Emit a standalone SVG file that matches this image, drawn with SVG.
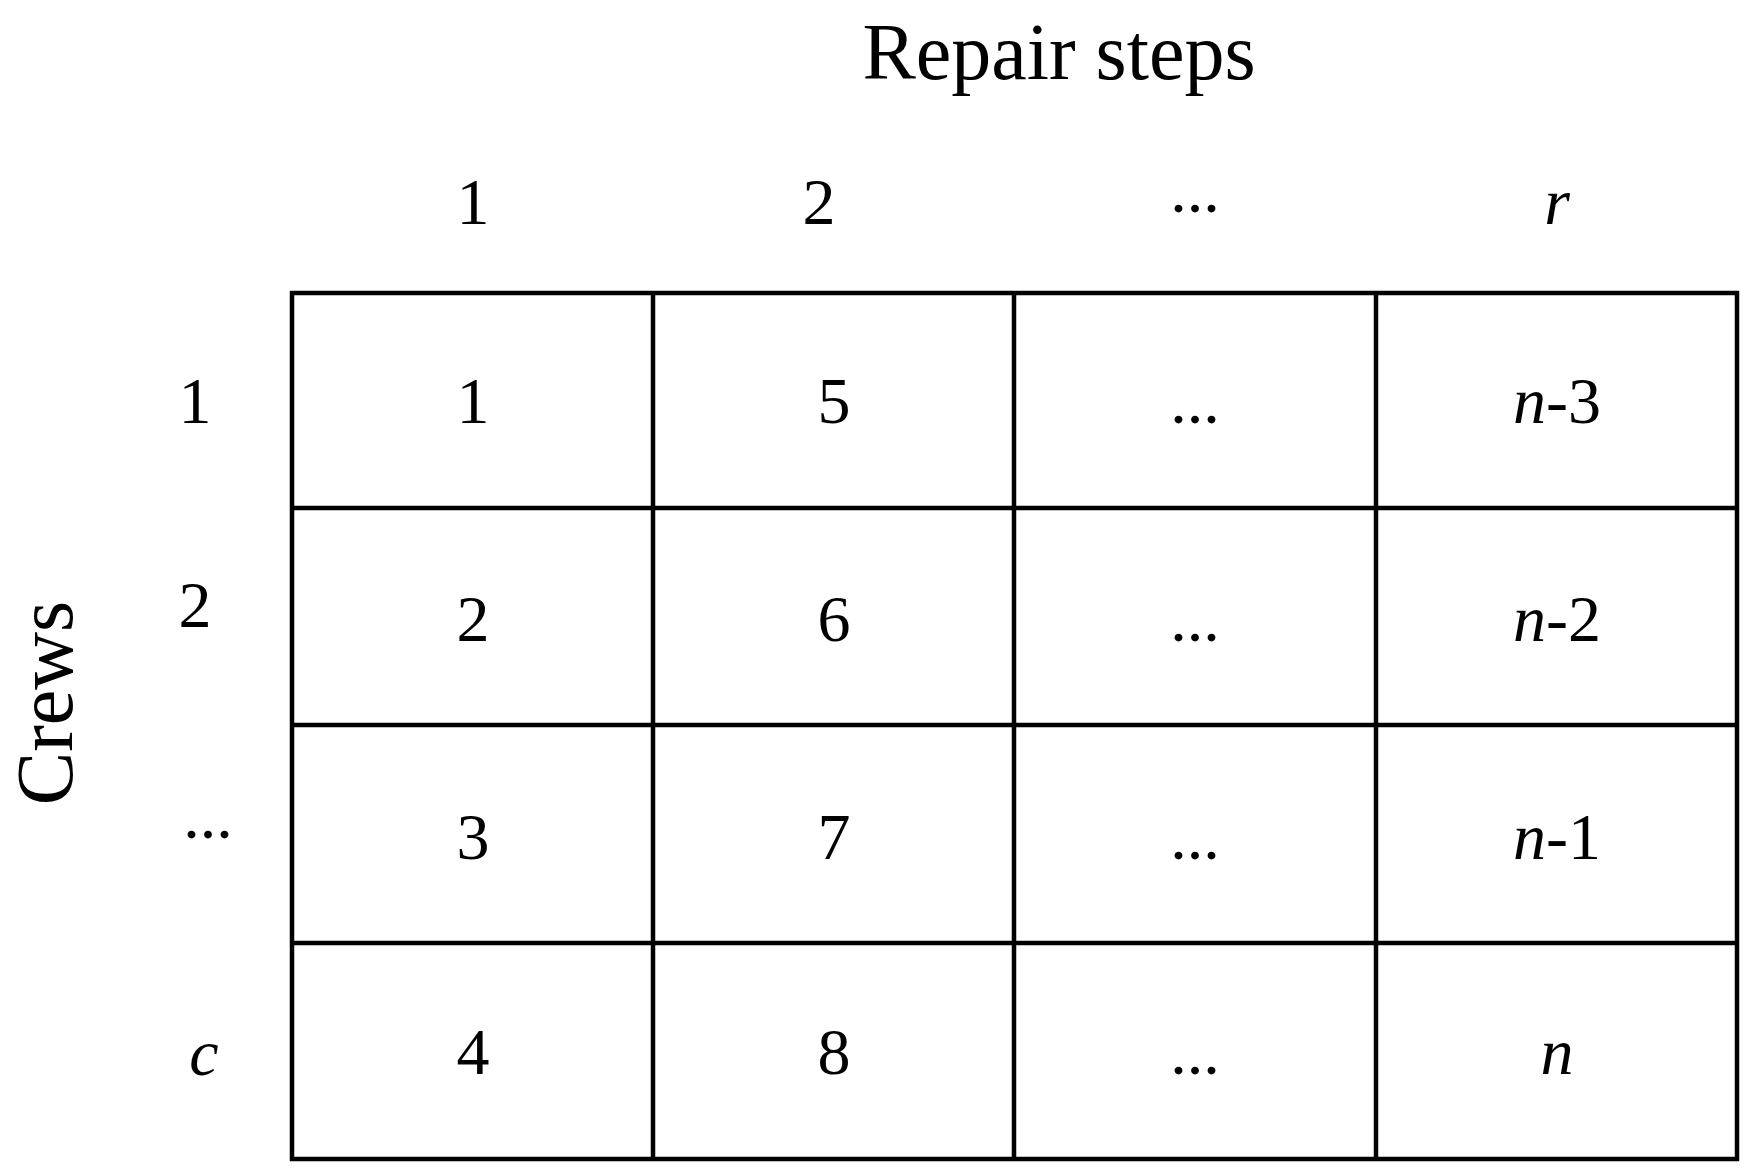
<svg xmlns="http://www.w3.org/2000/svg" width="1761" height="1174" viewBox="0 0 1761 1174">
<style>
text{font-family:"Liberation Serif","Times New Roman",serif;fill:#000;text-anchor:middle}
.t{font-size:80px}.h{font-size:66px}.i{font-style:italic}
.g{fill:none;stroke:#000;stroke-width:4.5}
</style>
<rect width="1761" height="1174" fill="#fff"/>
<text class="t" x="1059" y="79">Repair steps</text>
<text class="t" transform="translate(72,703) rotate(-90)">Crews</text>
<g id="colheads" class="h">
<text x="473" y="224">1</text><text x="819" y="224">2</text><text x="1195" y="212">...</text><text class="i" x="1557" y="224">r</text>
</g>
<g id="rowheads" class="h">
<text x="195" y="423">1</text><text x="195" y="627">2</text><text x="208" y="838">...</text><text class="i" x="204" y="1075">c</text>
</g>
<g id="grid" class="g">
<rect x="292" y="293" width="1445" height="866"/>
<path d="M653 293V1159M1014 293V1159M1376 293V1159M292 508H1737M292 725H1737M292 943H1737"/>
</g>
<g id="cells" class="h">
<text x="473" y="423">1</text><text x="834" y="423">5</text><text x="1195" y="423">...</text><text x="1557" y="423"><tspan class="i" font-style="italic">n</tspan>-3</text>
<text x="473" y="641">2</text><text x="834" y="641">6</text><text x="1195" y="641">...</text><text x="1557" y="641"><tspan font-style="italic">n</tspan>-2</text>
<text x="473" y="859">3</text><text x="834" y="859">7</text><text x="1195" y="859">...</text><text x="1557" y="859"><tspan font-style="italic">n</tspan>-1</text>
<text x="473" y="1074">4</text><text x="834" y="1074">8</text><text x="1195" y="1074">...</text><text class="i" x="1557" y="1074">n</text>
</g>
</svg>
